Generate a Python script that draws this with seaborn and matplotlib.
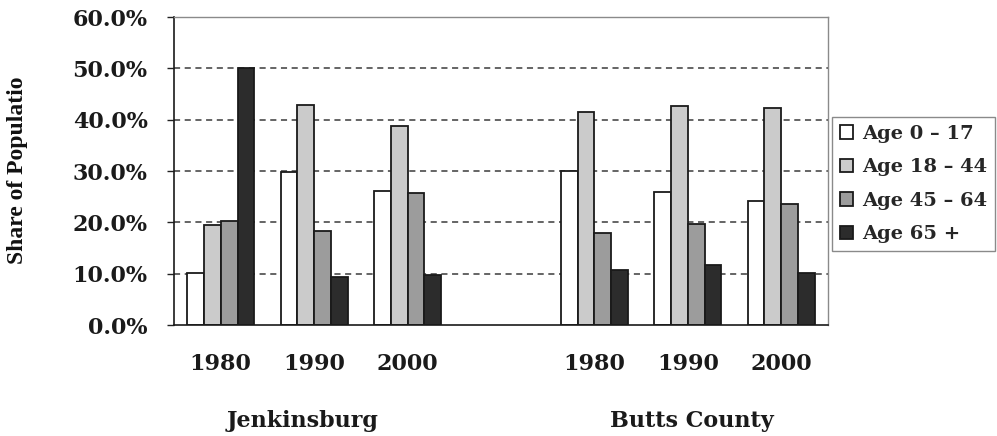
import matplotlib
matplotlib.use("Agg")
import matplotlib.pyplot as plt
from matplotlib.ticker import PercentFormatter
import pandas as pd
import seaborn as sns

# Share of population by age group, in percent
places = ["Jenkinsburg", "Jenkinsburg", "Jenkinsburg",
          "Butts County", "Butts County", "Butts County"]
years = ["1980", "1990", "2000", "1980", "1990", "2000"]
age_groups = ["Age 0 \u2013 17", "Age 18 \u2013 44", "Age 45 \u2013 64", "Age 65 +"]
age_0_17 = [10.2, 29.8, 26.1, 30.0, 26.0, 24.2]
age_18_44 = [19.5, 42.9, 38.7, 41.4, 42.7, 42.3]
age_45_64 = [20.2, 18.3, 25.8, 17.9, 19.6, 23.5]
age_65_up = [50.0, 9.4, 9.8, 10.8, 11.7, 10.2]
y_label = "Share of Populatio"

series = [age_0_17, age_18_44, age_45_64, age_65_up]
rows = []
for p, y, *vals in zip(places, years, *series):
    for grp, v in zip(age_groups, vals):
        rows.append({"slot": f"{p} {y}", "group": grp, "share": v})
df = pd.DataFrame(rows)

# one empty slot separates the two places
slot_order = [f"{p} {y}" for p, y in zip(places[:3], years[:3])] + ["gap"] + \
             [f"{p} {y}" for p, y in zip(places[3:], years[3:])]
tick_text = years[:3] + [""] + years[3:]

sns.set_style("white")
plt.rcParams["font.family"] = ["DejaVu Serif"]
plt.rcParams["font.weight"] = "bold"

fig = plt.figure(figsize=(9.97, 4.36), dpi=100)
ax = fig.add_axes([174 / 997, 1 - 325 / 436, 654 / 997, 308 / 436])

palette = ["#ffffff", "#cbcbcb", "#9c9c9c", "#2c2c2c"]
sns.barplot(data=df, x="slot", y="share", hue="group", order=slot_order,
            hue_order=age_groups, palette=palette, width=0.72,
            edgecolor="#1a1a1a", linewidth=1.3, saturation=1, ax=ax)

ax.set_xlim(-0.5, len(slot_order) - 0.5)
ax.set_ylim(0, 60)
ax.set_yticks([0, 10, 20, 30, 40, 50, 60])
ax.yaxis.set_major_formatter(PercentFormatter(xmax=100, decimals=1))
for v in [10, 20, 30, 40, 50]:
    ax.axhline(v, color="#3a3a3a", lw=1.1, ls=(0, (4, 3)), zorder=0)

ax.set_xticks(range(len(slot_order)))
ax.set_xticklabels(tick_text)
ax.set_xticks([i - 0.5 for i in range(len(slot_order) + 1)], minor=True)
ax.tick_params(axis="x", which="major", length=0, pad=20, labelsize=16)
ax.tick_params(axis="x", which="minor", length=5, width=1, color="#222222",
               direction="out")
ax.tick_params(axis="y", which="major", length=5, width=1, color="#222222",
               direction="out", pad=14, labelsize=16, left=True)
ax.set_xlabel("")
ax.set_ylabel("")
for lab in ax.get_xticklabels() + ax.get_yticklabels():
    lab.set_fontweight("bold")
    lab.set_color("#1a1a1a")

for side in ["left", "bottom"]:
    ax.spines[side].set_color("#1a1a1a")
    ax.spines[side].set_linewidth(1.2)
for side in ["top", "right"]:
    ax.spines[side].set_visible(True)
    ax.spines[side].set_color("#8a8a8a")
    ax.spines[side].set_linewidth(1.0)

fig.text(18 / 997, 1 - 170 / 436, y_label, rotation=90, ha="center",
         va="center", fontsize=17, fontweight="bold",
         family=["Liberation Serif"], color="#111111")
fig.text(303 / 997, 1 - 421 / 436, "Jenkinsburg", ha="center", va="center",
         fontsize=16, fontweight="bold", color="#1a1a1a")
fig.text(692 / 997, 1 - 421 / 436, "Butts County", ha="center", va="center",
         fontsize=16, fontweight="bold", color="#1a1a1a")

handles, labels = ax.get_legend_handles_labels()
ax.get_legend().remove()
leg = fig.legend(handles, labels, loc="upper left",
                 bbox_to_anchor=(832 / 997, 1 - 117 / 436),
                 prop={"size": 14, "weight": "bold"}, frameon=True,
                 fancybox=False, edgecolor="#8a8a8a", framealpha=1,
                 handlelength=0.7, handleheight=0.7, handletextpad=0.45,
                 labelspacing=0.8, borderpad=0.4, borderaxespad=0)
leg.get_frame().set_linewidth(1.0)

fig.savefig("out.png", dpi=100, facecolor="white")
